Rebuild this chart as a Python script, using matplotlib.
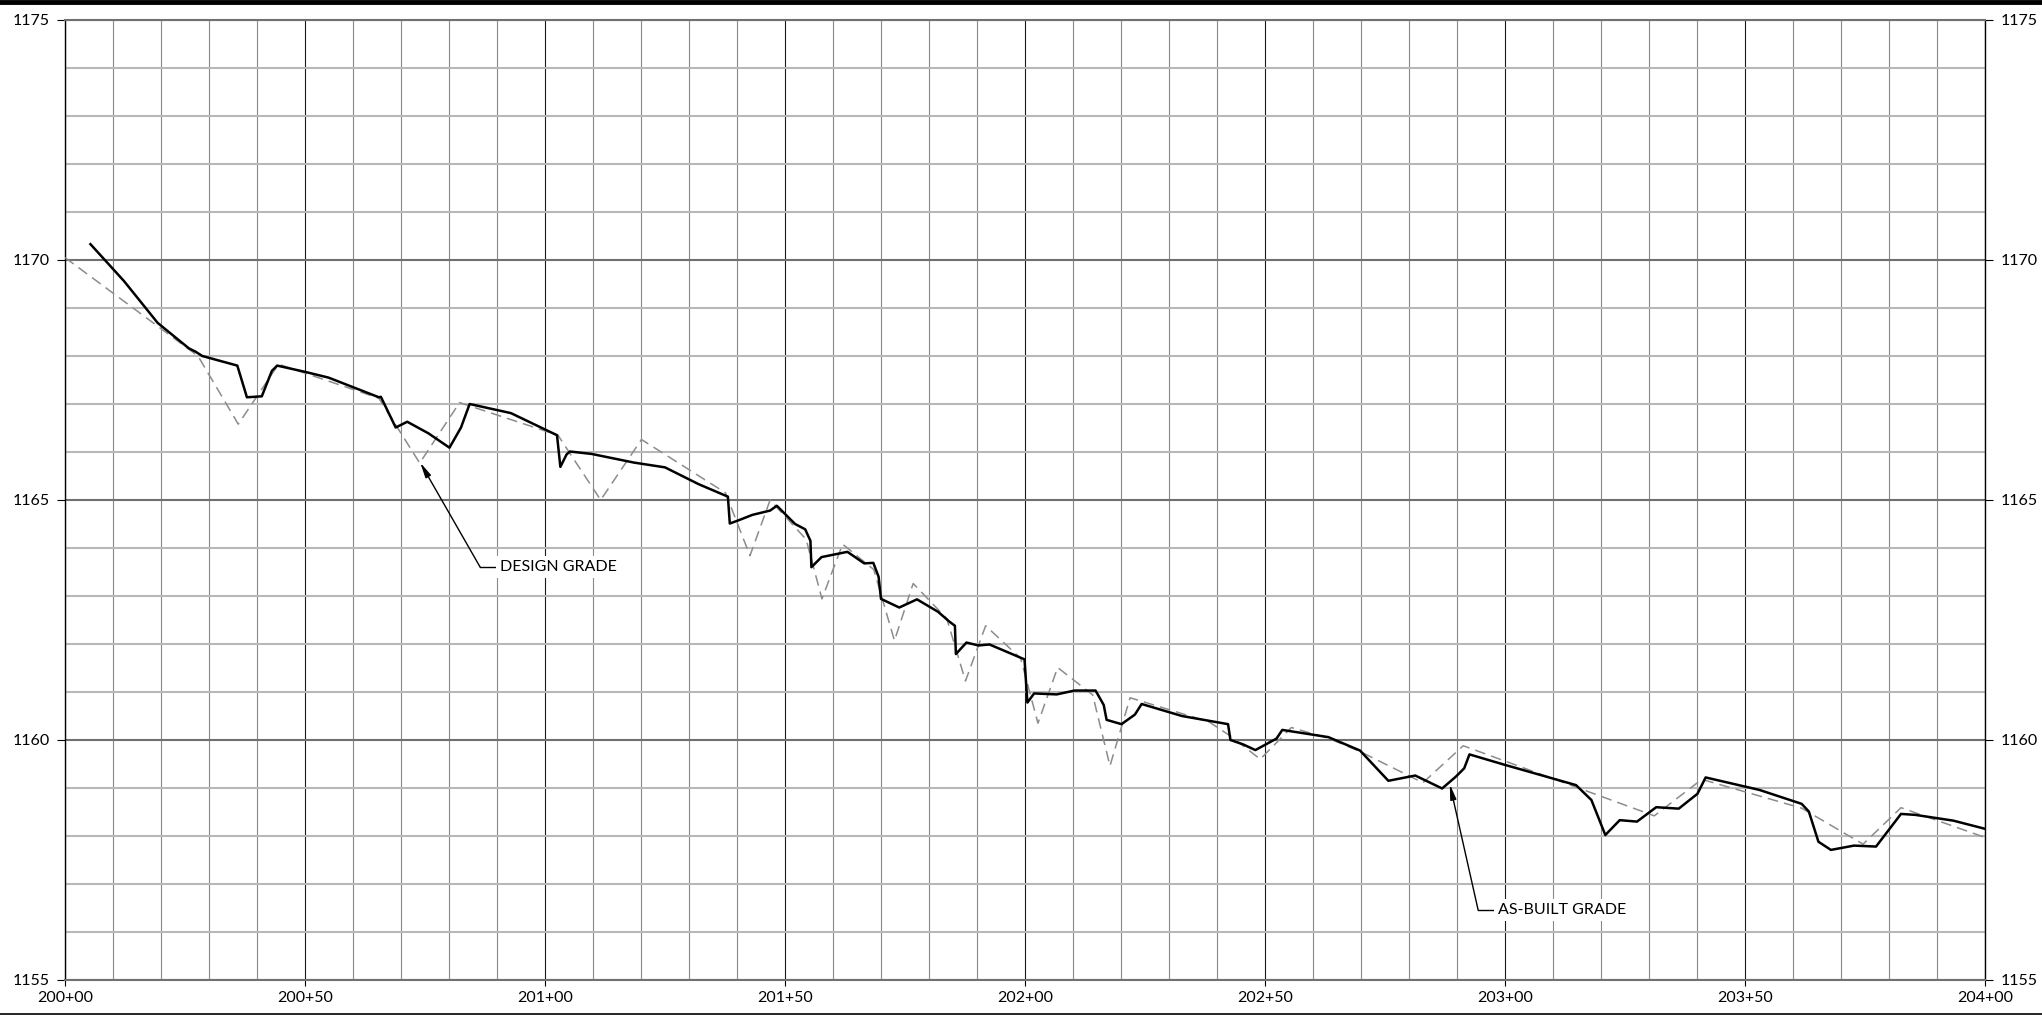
import matplotlib
matplotlib.use("Agg")
import matplotlib.pyplot as plt
from matplotlib.ticker import MultipleLocator, FuncFormatter
from matplotlib.lines import Line2D

plt.rcParams['font.family'] = ['Lato', 'DejaVu Sans']

# as-built grade (station in ft, elevation in ft)
asbuilt_sta = [20005.3, 20012.3, 20019.3, 20025.8, 20027.2, 20028.6, 20035.9, 20037.9, 20041.0,
               20043.1, 20044.2, 20050.0, 20054.9, 20065.4, 20065.8, 20068.9, 20071.3, 20075.7,
               20080.1, 20082.5, 20084.3, 20092.9, 20102.5, 20103.2, 20104.5, 20105.2, 20109.7,
               20118.5, 20125.0, 20132.0, 20138.1, 20138.5, 20140.4, 20143.2, 20146.9, 20148.3,
               20149.7, 20152.1, 20154.2, 20155.3, 20155.5, 20157.6, 20163.0, 20166.5, 20168.4,
               20169.5, 20170.0, 20173.8, 20177.5, 20181.9, 20184.2, 20185.4, 20185.6, 20187.8,
               20190.3, 20192.6, 20199.9, 20200.5, 20201.9, 20206.6, 20210.3, 20214.7, 20216.4,
               20217.0, 20220.1, 20222.9, 20224.3, 20232.7, 20242.3, 20242.8, 20245.4, 20248.0,
               20252.4, 20253.6, 20263.2, 20269.8, 20275.7, 20281.3, 20286.9, 20289.8, 20291.5,
               20292.6, 20299.7, 20314.8, 20318.0, 20320.9, 20323.9, 20327.5, 20331.5, 20336.2,
               20340.1, 20341.8, 20353.0, 20361.8, 20363.3, 20365.3, 20367.9, 20372.7, 20377.3,
               20382.5, 20385.5, 20393.4, 20400.0]
asbuilt_elev = [1170.33, 1169.56, 1168.69, 1168.16, 1168.09, 1168.00, 1167.80, 1167.14, 1167.16,
                1167.69, 1167.80, 1167.67, 1167.55, 1167.14, 1167.15, 1166.51, 1166.63, 1166.39,
                1166.09, 1166.51, 1167.00, 1166.81, 1166.35, 1165.69, 1165.95, 1166.01, 1165.96,
                1165.78, 1165.68, 1165.33, 1165.07, 1164.51, 1164.58, 1164.69, 1164.78, 1164.88,
                1164.74, 1164.50, 1164.39, 1164.15, 1163.60, 1163.81, 1163.92, 1163.68, 1163.69,
                1163.40, 1162.94, 1162.76, 1162.93, 1162.67, 1162.47, 1162.38, 1161.79, 1162.03,
                1161.97, 1161.99, 1161.68, 1160.78, 1160.97, 1160.95, 1161.03, 1161.03, 1160.73,
                1160.42, 1160.33, 1160.53, 1160.75, 1160.50, 1160.33, 1160.00, 1159.91, 1159.79,
                1160.03, 1160.21, 1160.06, 1159.78, 1159.15, 1159.26, 1158.99, 1159.24, 1159.41,
                1159.70, 1159.49, 1159.06, 1158.75, 1158.02, 1158.33, 1158.30, 1158.60, 1158.57,
                1158.88, 1159.22, 1158.96, 1158.67, 1158.51, 1157.88, 1157.71, 1157.80, 1157.78,
                1158.46, 1158.44, 1158.32, 1158.15]

# design grade
design_sta = [20000.0, 20027.7, 20036.1, 20044.5, 20065.4, 20073.9, 20082.2, 20102.7, 20111.6,
              20120.1, 20137.6, 20142.7, 20146.9, 20154.4, 20157.7, 20162.0, 20168.5, 20172.8,
              20176.7, 20183.7, 20187.6, 20191.8, 20199.1, 20202.7, 20206.8, 20214.1, 20217.7,
              20221.9, 20238.3, 20243.0, 20249.0, 20255.5, 20263.4, 20269.8, 20282.9, 20291.3,
              20331.1, 20341.0, 20361.8, 20374.6, 20382.5, 20400.0]
design_elev = [1170.05, 1168.00, 1166.58, 1167.83, 1167.12, 1165.77, 1167.03, 1166.35, 1165.00,
               1166.26, 1165.15, 1163.84, 1165.00, 1164.18, 1162.94, 1164.08, 1163.55, 1162.07,
               1163.26, 1162.53, 1161.23, 1162.38, 1161.70, 1160.35, 1161.51, 1160.94, 1159.46,
               1160.88, 1160.38, 1160.07, 1159.60, 1160.26, 1160.03, 1159.76, 1159.11, 1159.88,
               1158.42, 1159.18, 1158.58, 1157.83, 1158.59, 1157.97]


def sta_fmt(v, pos):
    v = int(round(v))
    return f"{v // 100}+{v % 100:02d}"


fig = plt.figure(figsize=(20.42, 10.15), dpi=100)
ax = fig.add_axes([65 / 2042, 1 - 980 / 1015, 1920 / 2042, 960 / 1015])

ax.plot(design_sta, design_elev, color='#8c8c8c', lw=1.1, dashes=(7, 4), zorder=3)
ax.plot(asbuilt_sta, asbuilt_elev, color='black', lw=1.8, zorder=4)

ax.set_xlim(20000, 20400)
ax.set_ylim(1155, 1175)
ax.xaxis.set_major_locator(MultipleLocator(50))
ax.xaxis.set_minor_locator(MultipleLocator(10))
ax.yaxis.set_major_locator(MultipleLocator(5))
ax.yaxis.set_minor_locator(MultipleLocator(1))
ax.xaxis.set_major_formatter(FuncFormatter(sta_fmt))

ax.grid(which='major', axis='x', color='#1a1a1a', lw=0.8, zorder=1)
ax.grid(which='minor', axis='x', color='#8a8a8a', lw=0.8, zorder=1)
ax.grid(which='major', axis='y', color='#707070', lw=1.5, zorder=1)
ax.grid(which='minor', axis='y', color='#b8b8b8', lw=1.5, zorder=1)
ax.set_axisbelow(True)

ax.spines['top'].set_color('#707070')
ax.spines['top'].set_linewidth(1.5)
ax.spines['bottom'].set_color('#707070')
ax.spines['bottom'].set_linewidth(1.5)
ax.spines['left'].set_color('black')
ax.spines['left'].set_linewidth(1.0)
ax.spines['right'].set_color('black')
ax.spines['right'].set_linewidth(1.0)

ax.tick_params(axis='x', which='major', length=4, width=0.8, pad=4, labelsize=11.5)
ax.tick_params(axis='x', which='minor', length=0)
ax.tick_params(axis='y', which='major', length=6, width=0.8, pad=5, labelsize=11.5,
               left=True, right=True, labelleft=True, labelright=True)
ax.tick_params(axis='y', which='minor', length=0)

# leader annotations
ax.annotate('', xy=(20074.0, 1165.78), xytext=(20086.5, 1163.60),
            arrowprops=dict(arrowstyle='-|>,head_length=0.9,head_width=0.18', color='black',
                            lw=1.0, shrinkA=0, shrinkB=0), zorder=6)
ax.plot([20086.5, 20089.6], [1163.60, 1163.60], color='black', lw=1.0, zorder=6)
ax.text(20090.6, 1163.60, 'DESIGN GRADE', fontsize=11.5, va='center', ha='left', zorder=6,
        bbox=dict(fc='white', ec='none', pad=3))

ax.annotate('', xy=(20288.5, 1159.08), xytext=(20294.4, 1156.46),
            arrowprops=dict(arrowstyle='-|>,head_length=0.9,head_width=0.18', color='black',
                            lw=1.0, shrinkA=0, shrinkB=0), zorder=6)
ax.plot([20294.4, 20297.6], [1156.46, 1156.46], color='black', lw=1.0, zorder=6)
ax.text(20298.6, 1156.46, 'AS-BUILT GRADE', fontsize=11.5, va='center', ha='left', zorder=6,
        bbox=dict(fc='white', ec='none', pad=3))

# sheet border lines
fig.add_artist(Line2D([0, 1], [1 - 2 / 1015, 1 - 2 / 1015], color='black', lw=3.5))
fig.add_artist(Line2D([0, 1], [1 - 1014 / 1015, 1 - 1014 / 1015], color='black', lw=1.2))

fig.savefig('out.png', dpi=100)
